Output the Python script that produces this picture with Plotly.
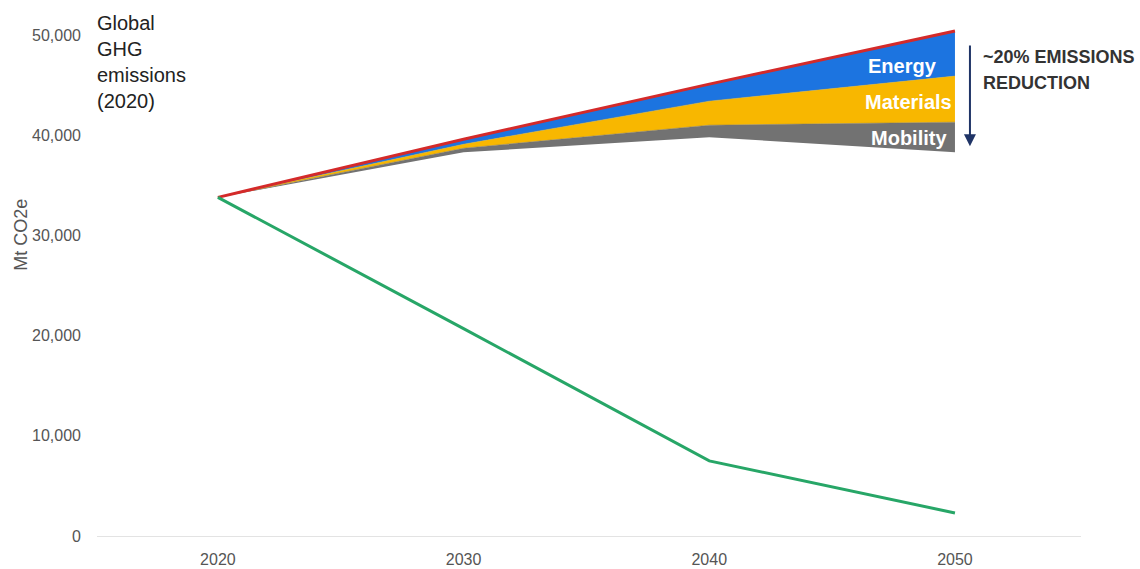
import plotly.graph_objects as go

# Emission pathways, Mt CO2e
years = [2020, 2030, 2040, 2050]
bau = [33800, 39600, 45100, 50400]            # business-as-usual trajectory
energy_floor = [33800, 39100, 43400, 45900]   # lower edge of the Energy wedge
materials_floor = [33800, 38700, 41000, 41300]
mobility_floor = [33800, 38300, 39800, 38300]
net_zero = [33800, 20700, 7500, 2300]

y_ticks = [0, 10000, 20000, 30000, 40000, 50000]
y_tick_text = ["0", "10,000", "20,000", "30,000", "40,000", "50,000"]
x_ticks = [2020, 2030, 2040, 2050]

wedges = [
    ("Mobility", materials_floor, "#727272"),
    ("Materials", energy_floor, "#f8b700"),
    ("Energy", bau, "#1c74e0"),
]

fig = go.Figure()

fig.add_trace(go.Scatter(x=years, y=mobility_floor, mode="lines",
                         line=dict(width=0, color="#727272"),
                         showlegend=False, hoverinfo="skip"))
for name, upper, color in wedges:
    fig.add_trace(go.Scatter(x=years, y=upper, mode="lines", name=name,
                             line=dict(width=0.5, color=color),
                             fill="tonexty", fillcolor=color,
                             showlegend=False))

fig.add_trace(go.Scatter(x=years, y=bau, mode="lines", name="BAU",
                         line=dict(width=3, color="#d42a2a"), showlegend=False))
fig.add_trace(go.Scatter(x=years, y=net_zero, mode="lines", name="Net zero",
                         line=dict(width=3, color="#27a667"), showlegend=False))

# Wedge labels, right-aligned at the 2050 edge
label_font = dict(family="Liberation Sans, Arial, sans-serif", size=20, color="white")
label_pos = [("Energy", 2049.35, 46900), ("Materials", 2049.95, 43300), ("Mobility", 2049.75, 39700)]
for text, x, y in label_pos:
    fig.add_annotation(x=x, y=y, text=f"<b>{text}</b>", showarrow=False,
                       xanchor="right", yanchor="middle", font=label_font)

# Reduction arrow
fig.add_annotation(x=2050.61, y=38900, ax=2050.61, ay=49100, xref="x", yref="y",
                   axref="x", ayref="y", text="", showarrow=True,
                   arrowhead=2, arrowsize=1.2, arrowwidth=2, arrowcolor="#1f3466")
note_font = dict(family="Liberation Sans Narrow, Arial Narrow, Liberation Sans, sans-serif",
                 size=18, color="#333333")
for line_text, y in [("~20% EMISSIONS", 47800), ("REDUCTION", 45200)]:
    fig.add_annotation(x=0.8985, y=y, xref="paper", yref="y",
                       text=f"<b>{line_text}</b>", showarrow=False,
                       xanchor="left", yanchor="middle", align="left", font=note_font)

fig.add_annotation(x=-0.002, y=1.01, xref="paper", yref="paper",
                   text="Global<br>GHG<br>emissions<br>(2020)", showarrow=False,
                   xanchor="left", yanchor="top", align="left",
                   font=dict(family="Liberation Sans, Arial, sans-serif", size=20, color="#222222"))

# Axis title placed by hand
fig.add_annotation(x=-0.077, y=30100, xref="paper", yref="y", text="Mt CO2e",
                   textangle=-90, showarrow=False, xanchor="center", yanchor="middle",
                   font=dict(family="Liberation Sans, Arial, sans-serif", size=18, color="#555555"))

tick_font = dict(family="Liberation Sans Narrow, Arial Narrow, Liberation Sans, sans-serif",
                 size=16, color="#555555")

fig.update_layout(
    width=1140, height=569,
    margin=dict(l=97, r=59, t=15, b=33),
    paper_bgcolor="white", plot_bgcolor="white",
    xaxis=dict(range=[2015.08, 2055.13], tickvals=x_ticks, showgrid=False,
               zeroline=False, showline=False, ticks="", ticklabelstandoff=12,
               automargin=False, tickfont=tick_font),
    yaxis=dict(range=[0, 52000], tickvals=y_ticks, ticktext=y_tick_text,
               showgrid=False, zeroline=True, zerolinecolor="#e3e3e3", zerolinewidth=1,
               showline=False, ticks="", ticklabelstandoff=15,
               automargin=False, tickfont=tick_font),
)

fig.write_html("out.html")
